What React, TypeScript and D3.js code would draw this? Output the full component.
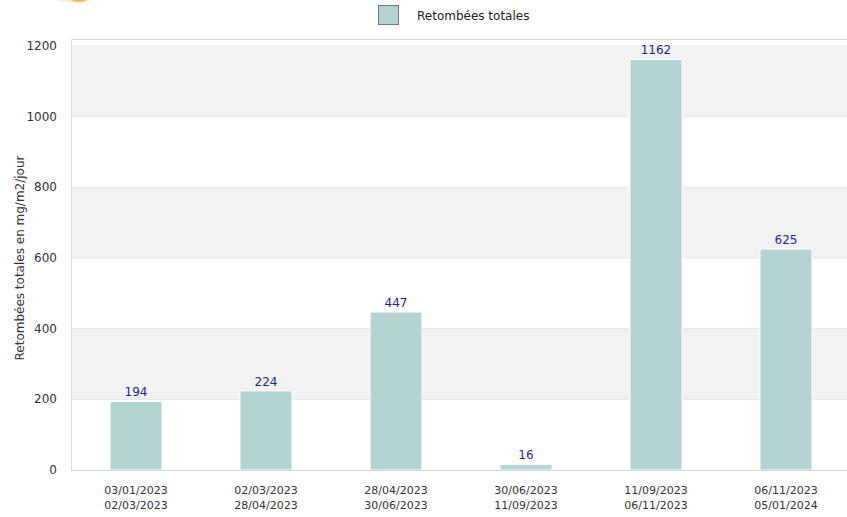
import React, { useEffect, useRef } from 'react';
import * as d3 from 'd3';

const periods = [
  ['03/01/2023', '02/03/2023'],
  ['02/03/2023', '28/04/2023'],
  ['28/04/2023', '30/06/2023'],
  ['30/06/2023', '11/09/2023'],
  ['11/09/2023', '06/11/2023'],
  ['06/11/2023', '05/01/2024'],
];
const retombees = [194, 224, 447, 16, 1162, 625];
const yTicks = [0, 200, 400, 600, 800, 1000, 1200];

const W = 847;
const H = 517;
const FONT = '"DejaVu Sans", sans-serif';

const App = () => {
  const ref = useRef<SVGSVGElement>(null);

  useEffect(() => {
    const svg = d3.select(ref.current);
    svg.selectAll('*').remove();

    const left = 71;
    const right = 851;
    const top = 39;
    const bottom = 470;

    const x = d3
      .scaleBand<number>()
      .domain(d3.range(periods.length))
      .range([left, right])
      .paddingInner(0.6)
      .paddingOuter(0.3);

    // 1200 sits at y=46, top border a bit above
    const y = d3.scaleLinear().domain([0, 1200]).range([bottom, 46]);

    // little bit of the logo that peeks in at the top
    svg.append('ellipse')
      .attr('cx', 75).attr('cy', -4).attr('rx', 22).attr('ry', 7)
      .attr('fill', '#fbe3b8').attr('opacity', 0.6);
    svg.append('ellipse')
      .attr('cx', 79).attr('cy', -3).attr('rx', 10).attr('ry', 5)
      .attr('fill', '#f0a53a').attr('opacity', 0.8);

    // alternating bands
    const g = svg.append('g');
    for (let i = 0; i < yTicks.length - 1; i++) {
      if (i % 2 === 1) {
        g.append('rect')
          .attr('x', left)
          .attr('y', y(yTicks[i + 1]))
          .attr('width', right - left)
          .attr('height', y(yTicks[i]) - y(yTicks[i + 1]))
          .attr('fill', '#f2f2f2');
      }
    }

    // grid lines
    g.selectAll('line.grid')
      .data(yTicks.slice(1))
      .join('line')
      .attr('x1', left).attr('x2', right)
      .attr('y1', (d) => y(d)).attr('y2', (d) => y(d))
      .attr('stroke', '#e6e6e6');

    // frame
    g.append('line').attr('x1', left).attr('x2', right).attr('y1', top + 0.5).attr('y2', top + 0.5).attr('stroke', '#dcdcdc');
    g.append('line').attr('x1', left + 0.5).attr('x2', left + 0.5).attr('y1', top).attr('y2', bottom).attr('stroke', '#dcdcdc');

    // bars
    svg.append('g')
      .selectAll('rect')
      .data(retombees)
      .join('rect')
      .attr('x', (d, i) => x(i)!)
      .attr('y', (d) => y(d))
      .attr('width', x.bandwidth())
      .attr('height', (d) => bottom - y(d))
      .attr('fill', '#b4d4d3')
      .attr('stroke', 'white')
      .attr('stroke-width', 1);

    // baseline
    svg.append('line').attr('x1', left).attr('x2', right).attr('y1', bottom + 0.5).attr('y2', bottom + 0.5).attr('stroke', '#d4d4d4');

    // value labels
    svg.append('g')
      .selectAll('text')
      .data(retombees)
      .join('text')
      .attr('x', (d, i) => x(i)! + x.bandwidth() / 2)
      .attr('y', (d) => y(d) - 5)
      .attr('text-anchor', 'middle')
      .attr('font-family', FONT)
      .attr('font-size', 12)
      .attr('fill', '#1f1f9e')
      .text((d) => d);

    // y tick labels
    svg.append('g')
      .selectAll('text')
      .data(yTicks)
      .join('text')
      .attr('x', 57)
      .attr('y', (d) => y(d) + 4)
      .attr('text-anchor', 'end')
      .attr('font-family', FONT)
      .attr('font-size', 12)
      .attr('fill', '#333')
      .text((d) => d);

    // y title
    svg.append('text')
      .attr('transform', `translate(24,${(46 + bottom) / 2}) rotate(-90)`)
      .attr('text-anchor', 'middle')
      .attr('font-family', FONT)
      .attr('font-size', 12)
      .attr('fill', '#333')
      .text('Retombées totales en mg/m2/jour');

    // x labels, two lines
    const xl = svg.append('g')
      .selectAll('text')
      .data(periods)
      .join('text')
      .attr('x', (d, i) => x(i)! + x.bandwidth() / 2)
      .attr('y', 494)
      .attr('text-anchor', 'middle')
      .attr('font-family', FONT)
      .attr('font-size', 11)
      .attr('fill', '#333');
    xl.append('tspan').text((d) => d[0]);
    xl.append('tspan')
      .attr('x', (d, i) => x(i)! + x.bandwidth() / 2)
      .attr('dy', 15)
      .text((d) => d[1]);

    // legend
    svg.append('rect')
      .attr('x', 378.5).attr('y', 5.5).attr('width', 20).attr('height', 19)
      .attr('fill', '#b4d4d3').attr('stroke', '#777');
    svg.append('text')
      .attr('x', 417).attr('y', 20)
      .attr('font-family', FONT)
      .attr('font-size', 12)
      .attr('fill', '#222')
      .text('Retombées totales');
  }, []);

  return (
    <svg ref={ref} width={W} height={H} style={{ position: 'absolute', left: 0, top: 0, background: 'white' }} />
  );
};

export default App;
